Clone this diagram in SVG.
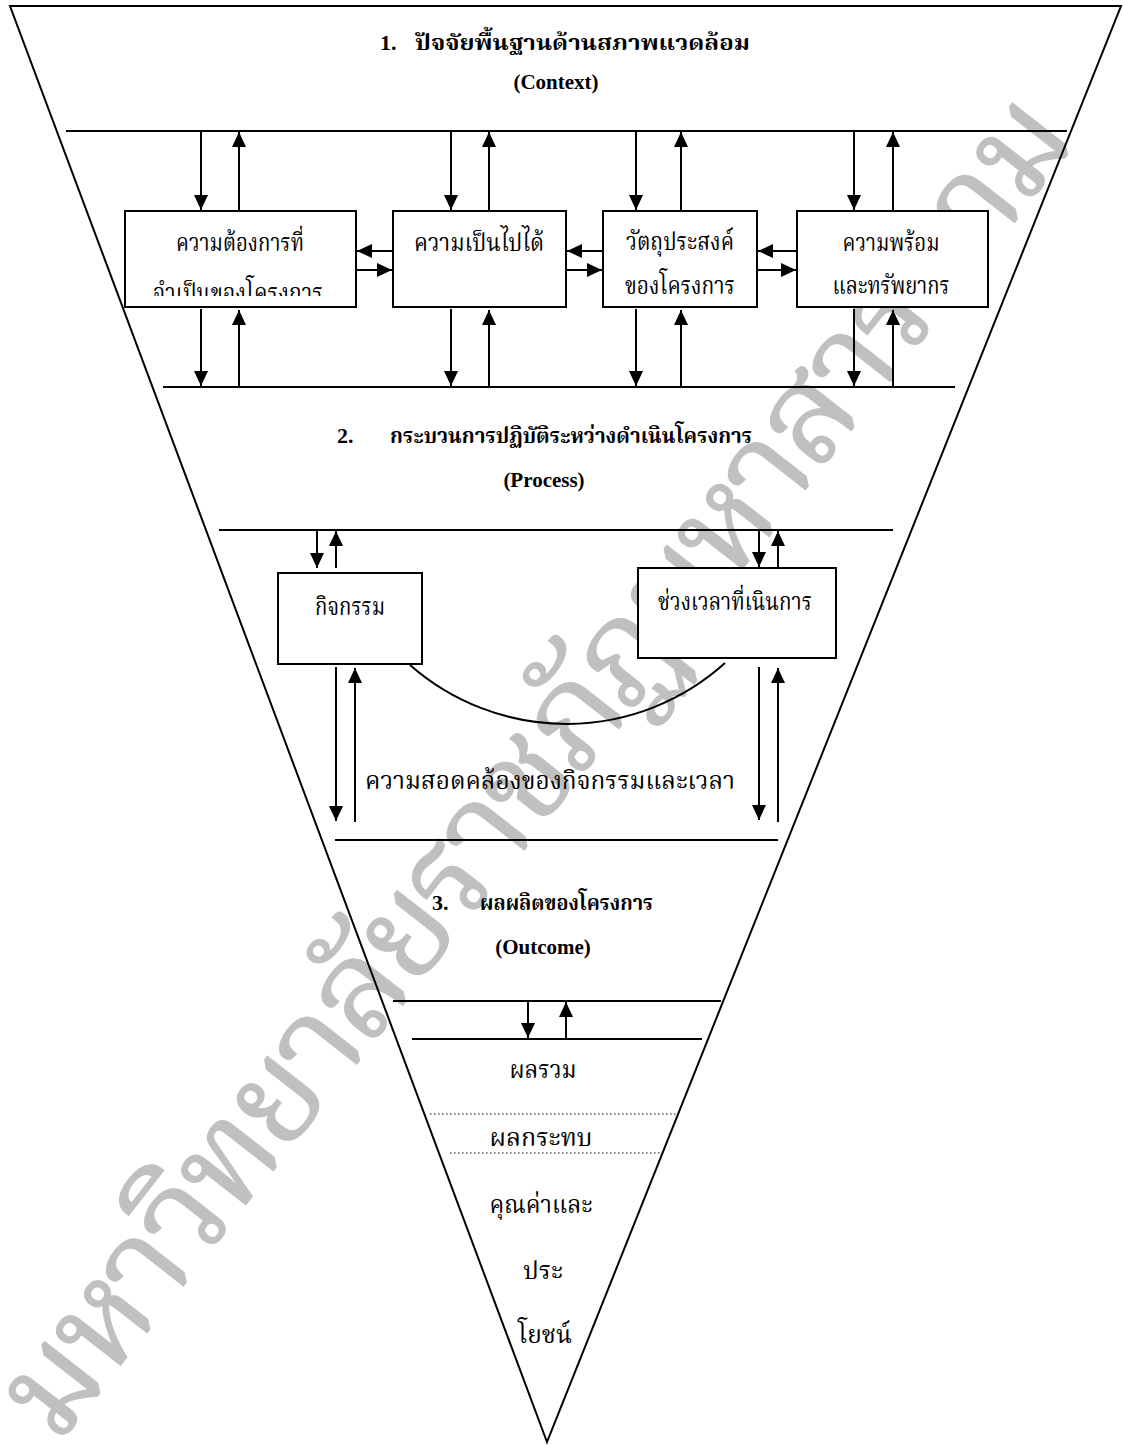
<svg xmlns="http://www.w3.org/2000/svg" width="1123" height="1445" viewBox="0 0 1123 1445">
<defs>
<marker id="ah" viewBox="0 0 10 10" refX="10" refY="5" markerWidth="15" markerHeight="14" markerUnits="userSpaceOnUse" orient="auto" preserveAspectRatio="none"><path d="M0,0 L10,5 L0,10 z" fill="#000"/></marker>
<clipPath id="clip1"><rect x="126" y="212" width="230" height="84"/></clipPath>
<style>
.ln{stroke:#000;stroke-width:2;fill:none}
.ar{stroke:#000;stroke-width:2;fill:none;marker-end:url(#ah)}
.box{fill:#fff;stroke:#000;stroke-width:2}
.dot{stroke:#000;stroke-width:1.2;stroke-dasharray:1.5 2.5;fill:none}
.th{font-family:'Liberation Serif','Noto Serif Thai','Noto Sans Thai',serif;font-size:24px;fill:#000;text-anchor:middle}
.tb{font-family:'Liberation Serif','Noto Serif Thai','Noto Sans Thai',serif;font-size:22px;font-weight:bold;fill:#000}
.en{font-family:'Liberation Serif',serif;font-size:21px;font-weight:bold;fill:#000;text-anchor:middle}
.wm{font-family:'Liberation Serif','Noto Serif Thai',serif;font-size:135px;fill:#c0c0c0;stroke:#c0c0c0;stroke-width:1;text-anchor:middle}
</style>
</defs>
<rect width="1123" height="1445" fill="#fff"/>
<g id="watermark">
<text class="wm" transform="translate(540,770) rotate(-52)" y="36" textLength="1660" lengthAdjust="spacing">มหาวิทยาลัยราชภัฏมหาสารคาม</text>
</g>
<g id="funnel">
<path class="ln" d="M10,6 L1121,6 L547,1442 Z" stroke-width="1.8"/>
</g>
<g id="titles">
<text class="tb" x="380" y="50">1.</text>
<text class="tb" x="415" y="50" textLength="335" lengthAdjust="spacingAndGlyphs">ปัจจัยพื้นฐานด้านสภาพแวดล้อม</text>
<text class="en" x="556" y="89">(Context)</text>
<text class="tb" x="337" y="443">2.</text>
<text class="tb" x="390" y="443" textLength="362" lengthAdjust="spacingAndGlyphs">กระบวนการปฏิบัติระหว่างดำเนินโครงการ</text>
<text class="en" x="544" y="487">(Process)</text>
<text class="tb" x="432" y="910">3.</text>
<text class="tb" x="480" y="910" textLength="173" lengthAdjust="spacingAndGlyphs">ผลผลิตของโครงการ</text>
<text class="en" x="543" y="954">(Outcome)</text>
</g>
<g id="connectors">
<line class="ln" x1="66" y1="131" x2="1067" y2="131"/>
<line class="ln" x1="163" y1="387" x2="955" y2="387"/>
<line class="ln" x1="219" y1="530" x2="893" y2="530"/>
<line class="ln" x1="335" y1="840" x2="778" y2="840"/>
<line class="ln" x1="393" y1="1001" x2="721" y2="1001"/>
<line class="ln" x1="412" y1="1039" x2="702" y2="1039"/>
<line class="dot" x1="430" y1="1114" x2="677" y2="1114"/>
<line class="dot" x1="450" y1="1153" x2="662" y2="1153"/>
<line class="ar" x1="201" y1="131" x2="201" y2="210"/>
<line class="ar" x1="239" y1="210" x2="239" y2="132"/>
<line class="ar" x1="451" y1="131" x2="451" y2="210"/>
<line class="ar" x1="489" y1="210" x2="489" y2="132"/>
<line class="ar" x1="636" y1="131" x2="636" y2="210"/>
<line class="ar" x1="681" y1="210" x2="681" y2="132"/>
<line class="ar" x1="854" y1="131" x2="854" y2="210"/>
<line class="ar" x1="893" y1="210" x2="893" y2="132"/>
<line class="ar" x1="201" y1="309" x2="201" y2="386"/>
<line class="ar" x1="239" y1="387" x2="239" y2="310"/>
<line class="ar" x1="451" y1="309" x2="451" y2="386"/>
<line class="ar" x1="489" y1="387" x2="489" y2="310"/>
<line class="ar" x1="636" y1="309" x2="636" y2="386"/>
<line class="ar" x1="681" y1="387" x2="681" y2="310"/>
<line class="ar" x1="854" y1="309" x2="854" y2="386"/>
<line class="ar" x1="893" y1="387" x2="893" y2="310"/>
<line class="ar" x1="393" y1="251" x2="357" y2="251"/>
<line class="ar" x1="356" y1="270" x2="392" y2="270"/>
<line class="ar" x1="603" y1="251" x2="567" y2="251"/>
<line class="ar" x1="566" y1="270" x2="602" y2="270"/>
<line class="ar" x1="797" y1="251" x2="758" y2="251"/>
<line class="ar" x1="757" y1="270" x2="796" y2="270"/>
<line class="ar" x1="317" y1="530" x2="317" y2="568"/>
<line class="ar" x1="336" y1="568" x2="336" y2="531"/>
<line class="ar" x1="759" y1="530" x2="759" y2="567"/>
<line class="ar" x1="778" y1="568" x2="778" y2="531"/>
<line class="ar" x1="336" y1="667" x2="336" y2="821"/>
<line class="ar" x1="355" y1="822" x2="355" y2="668"/>
<line class="ar" x1="759" y1="667" x2="759" y2="820"/>
<line class="ar" x1="778" y1="822" x2="778" y2="668"/>
<line class="ar" x1="528" y1="1001" x2="528" y2="1038"/>
<line class="ar" x1="566" y1="1039" x2="566" y2="1002"/>
<path class="ln" d="M410,665 A237,237 0 0 0 725,663"/>
</g>
<g id="node-need">
<rect class="box" x="125" y="211" width="231" height="96"/>
<text class="th" x="240" y="251" textLength="128" lengthAdjust="spacingAndGlyphs">ความต้องการที่</text>
<text class="th" x="238" y="301" textLength="170" lengthAdjust="spacingAndGlyphs" clip-path="url(#clip1)">จำเป็นของโครงการ</text>
</g>
<g id="node-feasibility">
<rect class="box" x="393" y="211" width="173" height="96"/>
<text class="th" x="479" y="251" textLength="130" lengthAdjust="spacingAndGlyphs">ความเป็นไปได้</text>
</g>
<g id="node-objective">
<rect class="box" x="603" y="211" width="154" height="96"/>
<text class="th" x="680" y="250" textLength="108" lengthAdjust="spacingAndGlyphs">วัตถุประสงค์</text>
<text class="th" x="680" y="294" textLength="110" lengthAdjust="spacingAndGlyphs">ของโครงการ</text>
</g>
<g id="node-resource">
<rect class="box" x="797" y="211" width="191" height="96"/>
<text class="th" x="891" y="251" textLength="97" lengthAdjust="spacingAndGlyphs">ความพร้อม</text>
<text class="th" x="891" y="294" textLength="117" lengthAdjust="spacingAndGlyphs">และทรัพยากร</text>
</g>
<g id="node-activity">
<rect class="box" x="278" y="573" width="144" height="91"/>
<text class="th" x="350" y="615" textLength="70" lengthAdjust="spacingAndGlyphs">กิจกรรม</text>
</g>
<g id="node-period">
<rect class="box" x="638" y="568" width="198" height="90"/>
<text class="th" x="735" y="610" textLength="154" lengthAdjust="spacingAndGlyphs">ช่วงเวลาที่เนินการ</text>
</g>
<g id="label-consistency">
<text class="th" x="550" y="789" textLength="370" lengthAdjust="spacingAndGlyphs">ความสอดคล้องของกิจกรรมและเวลา</text>
</g>
<g id="outcome-levels">
<text class="th" x="543" y="1078" textLength="67" lengthAdjust="spacingAndGlyphs">ผลรวม</text>
<text class="th" x="541" y="1146" textLength="103" lengthAdjust="spacingAndGlyphs">ผลกระทบ</text>
<text class="th" x="541" y="1213" textLength="103" lengthAdjust="spacingAndGlyphs">คุณค่าและ</text>
<text class="th" x="543" y="1279" textLength="40" lengthAdjust="spacingAndGlyphs">ประ</text>
<text class="th" x="545" y="1343" textLength="54" lengthAdjust="spacingAndGlyphs">โยชน์</text>
</g>
</svg>
